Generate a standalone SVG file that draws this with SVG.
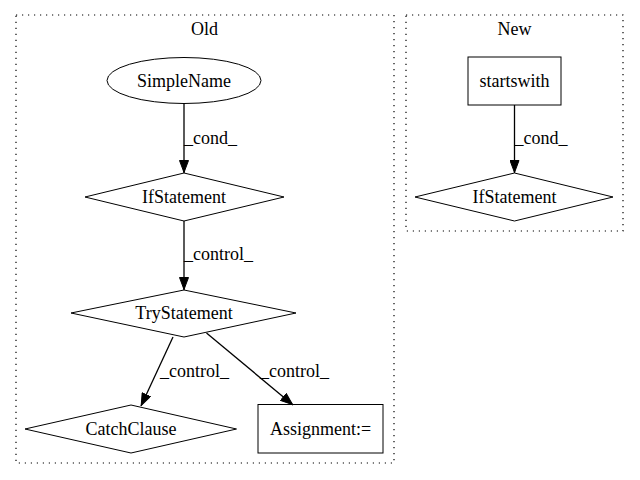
<svg xmlns="http://www.w3.org/2000/svg" width="640" height="480" viewBox="0 0 640 480">
<defs>
<style>
text{font-family:'Liberation Serif','Times New Roman',Times,serif;font-size:18px;fill:#000}
.c{text-anchor:middle}
.n{fill:none;stroke:#000;stroke-width:1}
.cl{fill:none;stroke:#000;stroke-width:1.2;stroke-dasharray:1.2,4.8}
.e{fill:none;stroke:#000;stroke-width:1.3}
</style>
<marker id="ah" viewBox="0 0 13 10" refX="13" refY="5" markerWidth="13" markerHeight="10" markerUnits="userSpaceOnUse" orient="auto">
<path d="M0.5,0.5L12.5,5L0.5,9.5z" fill="#000" stroke="#000"/>
</marker>
</defs>
<rect width="640" height="480" fill="#fff"/>
<g id="cluster_old">
<rect class="cl" x="16" y="15" width="378" height="448"/>
<text class="c" x="204.5" y="35">Old</text>
</g>
<g id="cluster_new">
<rect class="cl" x="406" y="15" width="217" height="216"/>
<text class="c" x="514.5" y="35">New</text>
</g>
<g id="connectors">
<line class="e" x1="184" y1="103" x2="184" y2="173" marker-end="url(#ah)"/>
<text x="184" y="144">_cond_</text>
<line class="e" x1="184" y1="221" x2="184" y2="290" marker-end="url(#ah)"/>
<text x="184" y="260">_control_</text>
<line class="e" x1="173" y1="337" x2="141" y2="406" marker-end="url(#ah)"/>
<text x="160" y="377">_control_</text>
<line class="e" x1="206.5" y1="333" x2="293" y2="405" marker-end="url(#ah)"/>
<text x="260" y="377">_control_</text>
<line class="e" x1="514.5" y1="105" x2="514.5" y2="173" marker-end="url(#ah)"/>
<text x="514.5" y="144">_cond_</text>
</g>
<g id="SimpleName">
<ellipse class="n" cx="184" cy="80.5" rx="77" ry="23"/>
<text class="c" x="184" y="86.5">SimpleName</text>
</g>
<g id="IfStatement_old">
<polygon class="n" points="184,173 284,197 184,221 85,197"/>
<text class="c" x="184" y="203">IfStatement</text>
</g>
<g id="TryStatement">
<polygon class="n" points="184,290 296,313 184,337 71,313"/>
<text class="c" x="184" y="319">TryStatement</text>
</g>
<g id="CatchClause">
<polygon class="n" points="131,405 236.5,429 131,453 25,429"/>
<text class="c" x="131" y="435">CatchClause</text>
</g>
<g id="Assignment">
<rect class="n" x="258" y="404.5" width="125" height="48.5"/>
<text class="c" x="320.5" y="435">Assignment:=</text>
</g>
<g id="startswith">
<rect class="n" x="468" y="57" width="93" height="48"/>
<text class="c" x="514.5" y="87">startswith</text>
</g>
<g id="IfStatement_new">
<polygon class="n" points="514.5,173 613,197 514.5,221 415,197"/>
<text class="c" x="514.5" y="203">IfStatement</text>
</g>
</svg>
